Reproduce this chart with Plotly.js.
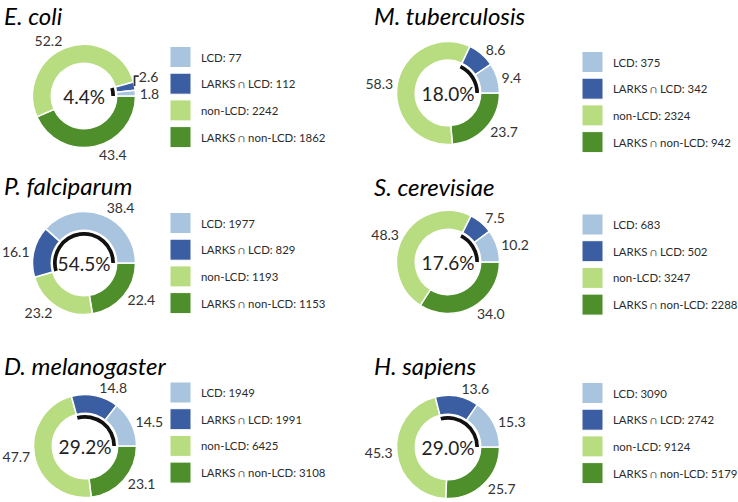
<!DOCTYPE html>
<html>
<head>
<meta charset="utf-8">
<script src="https://cdn.plot.ly/plotly-3.0.1.min.js"></script>
<style>html,body{margin:0;padding:0;background:#fff;}#chart{width:738px;height:502px;}</style>
</head>
<body>
<div id="chart"></div>
<script>
// ---- data ----
var species = ['E. coli', 'M. tuberculosis', 'P. falciparum', 'S. cerevisiae', 'D. melanogaster', 'H. sapiens'];
var categories = ['LCD', 'LARKS \u2229 LCD', 'non-LCD', 'LARKS \u2229 non-LCD'];
var lcd = [77, 375, 1977, 683, 1949, 3090];
var larksLcd = [112, 342, 829, 502, 1991, 2742];
var nonLcd = [2242, 2324, 1193, 3247, 6425, 9124];
var larksNonLcd = [1862, 942, 1153, 2288, 3108, 5179];

// ---- styles / layout positions (pixels) ----
var colors = ['#a9c4df', '#3b5ea2', '#b8dc80', '#4e8f2b'];
var W = 738, H = 502;
var centers = [[84, 96], [448, 93], [84, 263], [448, 262], [85, 446], [448, 447]];
var radius = 51.5;
var holeFrac = 0.635;
var arcOuter = 31, arcHole = 0.88;
var titlePos = [[2, 15.5], [372, 15.5], [2, 185], [372, 186], [2, 365], [372, 365]];
var legendPos = [[170, 57], [582, 62], [170, 223], [582, 224.5], [170, 392.5], [582, 393]];
var legendStep = 26.7, sq = 21;
var FONT = 'Lato, "Open Sans", sans-serif';

function px(x) { return x / W; }
function py(y) { return 1 - y / H; }

var traces = [], annotations = [], shapes = [];
for (var i = 0; i < species.length; i++) {
  var vals = [lcd[i], larksLcd[i], nonLcd[i], larksNonLcd[i]];
  var total = vals.reduce(function (a, b) { return a + b; }, 0);
  var txt = vals.map(function (v) { return (v / total * 100).toFixed(1); });
  var lcdShare = ((lcd[i] + larksLcd[i]) / total * 100).toFixed(1) + '%';
  var cx = centers[i][0], cy = centers[i][1];
  // drawn clockwise from 3 o'clock in reverse order, so the slices read
  // counter-clockwise from 3 o'clock in category order
  traces.push({
    type: 'pie', values: vals.slice().reverse(), labels: categories.slice().reverse(), sort: false,
    direction: 'clockwise', rotation: 90,
    hole: holeFrac,
    marker: { colors: colors.slice().reverse(), line: { color: '#ffffff', width: 1.5 } },
    text: txt.slice().reverse(), textinfo: 'text', textposition: 'outside',
    outsidetextfont: { family: FONT, size: 14, color: '#333333' },
    title: { text: lcdShare, position: 'middle center', font: { family: FONT, size: 19, color: '#222222' } },
    domain: { x: [px(cx - radius), px(cx + radius)], y: [py(cy + radius), py(cy - radius)] },
    showlegend: false, hoverinfo: 'label+value', automargin: false
  });
  traces.push({
    type: 'pie', values: [nonLcd[i] + larksNonLcd[i], lcd[i] + larksLcd[i]], labels: ['rest', 'LCD total'],
    sort: false, direction: 'clockwise', rotation: 90, hole: arcHole,
    marker: { colors: ['rgba(0,0,0,0)', '#111111'], line: { width: 0 } },
    textinfo: 'none', hoverinfo: 'skip', showlegend: false,
    domain: { x: [px(cx - arcOuter), px(cx + arcOuter)], y: [py(cy + arcOuter), py(cy - arcOuter)] }
  });
  annotations.push({
    text: '<i>' + species[i] + '</i>', xref: 'paper', yref: 'paper',
    x: px(titlePos[i][0]), y: py(titlePos[i][1]), xanchor: 'left', yanchor: 'middle',
    showarrow: false, font: { family: FONT, size: 24, color: '#000000' }
  });
  for (var k = 0; k < categories.length; k++) {
    var lx = legendPos[i][0], ly = legendPos[i][1] + k * legendStep;
    shapes.push({
      type: 'rect', xref: 'paper', yref: 'paper',
      x0: px(lx), x1: px(lx + sq), y0: py(ly + sq / 2), y1: py(ly - sq / 2),
      fillcolor: colors[k], line: { color: '#ffffff', width: 1 }
    });
    annotations.push({
      text: categories[k] + ': ' + vals[k], xref: 'paper', yref: 'paper',
      x: px(lx + sq + 8), y: py(ly), xanchor: 'left', yanchor: 'middle',
      showarrow: false, font: { family: FONT, size: 11.4, color: '#2b2b2b' }
    });
  }
}

var layout = {
  width: W, height: H, margin: { l: 0, r: 0, t: 0, b: 0 },
  paper_bgcolor: '#ffffff', plot_bgcolor: '#ffffff',
  showlegend: false, annotations: annotations, shapes: shapes
};
Plotly.newPlot('chart', traces, layout, { displayModeBar: false, staticPlot: true });
</script>
</body>
</html>
